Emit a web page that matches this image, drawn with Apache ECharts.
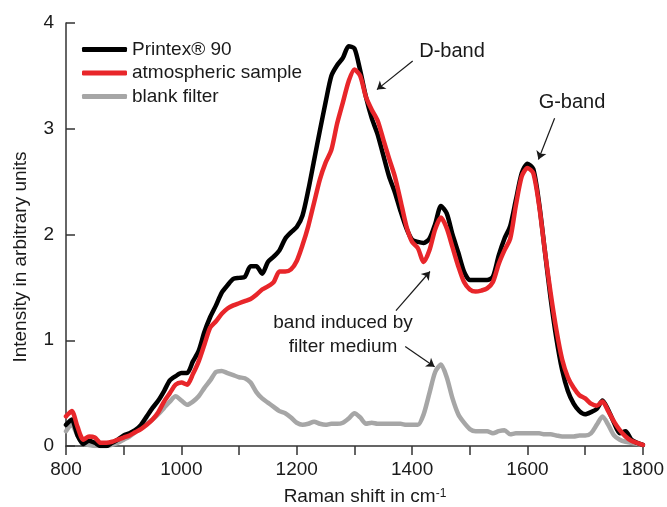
<!DOCTYPE html>
<html>
<head>
<meta charset="utf-8">
<script src="https://cdn.jsdelivr.net/npm/echarts@6/dist/echarts.min.js"></script>
<style>
  html, body { margin: 0; padding: 0; background: #fff; }
  #chart { width: 667px; height: 507px; }
</style>
</head>
<body>
<div id="chart"></div>
<script>
// Raman shift (cm^-1), sampled every 10 cm^-1 from 800 to 1800
const ramanShift = [];
for (let w = 800; w <= 1800; w += 10) ramanShift.push(w);

// Printex® 90 reference soot
const printex90 = [
  0.20, 0.25, 0.10, 0.02, 0.05, 0.03, 0.00, 0.00, 0.03, 0.06,
  0.10, 0.12, 0.15, 0.20, 0.28, 0.36, 0.43, 0.52, 0.62, 0.66,
  0.69, 0.69, 0.80, 0.90, 1.08, 1.22, 1.33, 1.45, 1.52, 1.58,
  1.59, 1.60, 1.70, 1.70, 1.63, 1.74, 1.79, 1.85, 1.96, 2.02,
  2.07, 2.18, 2.42, 2.70, 2.98, 3.25, 3.50, 3.60, 3.67, 3.78,
  3.76, 3.55, 3.30, 3.10, 2.95, 2.75, 2.55, 2.40, 2.22, 2.06,
  1.95, 1.93, 1.92, 1.96, 2.10, 2.27, 2.20, 2.00, 1.83, 1.65,
  1.57, 1.57, 1.57, 1.57, 1.60, 1.80, 1.96, 2.08, 2.33, 2.58,
  2.67, 2.62, 2.30, 1.85, 1.40, 1.02, 0.72, 0.52, 0.40, 0.33,
  0.30, 0.32, 0.35, 0.43, 0.34, 0.22, 0.12, 0.14, 0.06, 0.03,
  0.01
];

// Atmospheric aerosol sample
const atmospheric = [
  0.28, 0.33, 0.18, 0.06, 0.09, 0.08, 0.03, 0.03, 0.04, 0.06,
  0.08, 0.10, 0.13, 0.16, 0.20, 0.25, 0.32, 0.42, 0.50, 0.58,
  0.60, 0.58, 0.68, 0.80, 0.96, 1.12, 1.18, 1.25, 1.30, 1.33,
  1.35, 1.37, 1.39, 1.43, 1.48, 1.51, 1.55, 1.65, 1.65, 1.67,
  1.75, 1.90, 2.08, 2.30, 2.52, 2.68, 2.80, 3.05, 3.25, 3.45,
  3.56, 3.50, 3.30, 3.18, 3.08, 2.90, 2.72, 2.55, 2.32, 2.08,
  1.93, 1.87, 1.74, 1.85, 2.05, 2.16, 2.06, 1.88, 1.70, 1.55,
  1.48, 1.46, 1.47, 1.49, 1.55, 1.72, 1.85, 1.96, 2.28, 2.55,
  2.63, 2.58, 2.28, 1.85, 1.45, 1.10, 0.82, 0.65, 0.55, 0.48,
  0.45, 0.40, 0.38, 0.42, 0.33, 0.23, 0.15, 0.09, 0.05, 0.03,
  0.01
];

// Blank filter background
const blankFilter = [
  0.14, 0.20, 0.10, 0.02, 0.01, 0.00, 0.00, 0.00, 0.01, 0.03,
  0.06, 0.09, 0.13, 0.17, 0.21, 0.25, 0.30, 0.36, 0.42, 0.47,
  0.43, 0.39, 0.42, 0.47, 0.55, 0.62, 0.70, 0.71, 0.69, 0.67,
  0.65, 0.64, 0.60, 0.51, 0.45, 0.41, 0.37, 0.33, 0.31, 0.27,
  0.22, 0.20, 0.21, 0.23, 0.21, 0.20, 0.21, 0.21, 0.22, 0.26,
  0.31, 0.27, 0.21, 0.22, 0.21, 0.21, 0.21, 0.21, 0.21, 0.20,
  0.20, 0.20, 0.30, 0.50, 0.70, 0.77, 0.65, 0.45, 0.30, 0.22,
  0.16, 0.14, 0.14, 0.14, 0.12, 0.14, 0.15, 0.11, 0.12, 0.12,
  0.12, 0.12, 0.12, 0.11, 0.11, 0.10, 0.09, 0.09, 0.09, 0.10,
  0.10, 0.12, 0.20, 0.28, 0.20, 0.10, 0.06, 0.04, 0.03, 0.02,
  0.01
];

const seriesNames = ['Printex® 90', 'atmospheric sample', 'blank filter'];
const xTicks = [800, 1000, 1200, 1400, 1600, 1800];
const yTicks = [0, 1, 2, 3, 4];

const FONT = '"Liberation Sans", Arial, sans-serif';
const INK = '#1a1a1a';

const pair = arr => ramanShift.map((w, i) => [w, arr[i]]);

// Annotation arrows (tail -> head) in data coordinates
const arrows = [
  [[1401, 3.64], [1339, 3.37]],   // D-band
  [[1647, 3.10], [1619, 2.71]],   // G-band
  [[1372, 1.28], [1431, 1.65]],   // towards the 1450 shoulder
  [[1388, 0.94], [1439, 0.75]]    // towards the blank-filter band
];

const chart = echarts.init(document.getElementById('chart'), null, { renderer: 'canvas' });

const lineSeries = (name, data, color, z) => ({
  name, type: 'line', data: pair(data),
  smooth: 0.25, symbol: 'none', z,
  lineStyle: { color, width: 4.5, cap: 'round', join: 'round' },
  itemStyle: { color },
  emphasis: { disabled: true },
  animation: false
});

const blank = lineSeries(seriesNames[2], blankFilter, '#a6a6a6', 2);
blank.markLine = {
  silent: true,
  symbol: ['none', 'arrow'],
  symbolSize: 8,
  label: { show: false },
  lineStyle: { color: INK, width: 1.2, type: 'solid' },
  itemStyle: { color: INK },
  emphasis: { disabled: true },
  data: arrows.map(([a, b]) => [{ coord: a }, { coord: b }]),
  animation: false
};

chart.setOption({
  animation: false,
  backgroundColor: '#fff',
  grid: { left: 66, right: 24, top: 23, bottom: 61, containLabel: false },
  legend: {
    data: seriesNames,
    orient: 'vertical',
    left: 82, top: 40,
    padding: 0,
    icon: 'roundRect',
    itemWidth: 45, itemHeight: 5, itemGap: 4.5,
    textStyle: { fontFamily: FONT, fontSize: 19, color: INK, lineHeight: 19 },
    selectedMode: false
  },
  xAxis: {
    type: 'value', min: 800, max: 1800, interval: 100,
    axisLine: { show: true, lineStyle: { color: '#333', width: 1.5 } },
    axisTick: { show: true, inside: false, length: 9, lineStyle: { color: '#333', width: 1.5 } },
    axisLabel: {
      fontFamily: FONT, fontSize: 19, color: INK, margin: 14,
      formatter: v => (xTicks.includes(v) ? String(v) : '')
    },
    splitLine: { show: false }
  },
  yAxis: {
    type: 'value', min: 0, max: 4, interval: 1,
    axisLine: { show: true, lineStyle: { color: '#333', width: 1.5 } },
    axisTick: { show: true, inside: true, length: 9, lineStyle: { color: '#333', width: 1.5 } },
    axisLabel: {
      fontFamily: FONT, fontSize: 19, color: INK, margin: 12,
      formatter: v => (yTicks.includes(v) ? String(v) : '')
    },
    splitLine: { show: false }
  },
  graphic: [
    {
      type: 'text', x: 21, y: 257, rotation: Math.PI / 2,
      style: {
        text: 'Intensity in arbitrary units', fill: INK,
        font: '19px ' + FONT, textAlign: 'center', textVerticalAlign: 'middle'
      }
    },
    {
      type: 'text', x: 365, y: 497,
      style: {
        text: 'Raman shift in cm{sup|-1}', fill: INK,
        font: '19px ' + FONT, textAlign: 'center', textVerticalAlign: 'middle',
        rich: { sup: { fontSize: 12, verticalAlign: 'top', fontFamily: FONT, fill: INK } }
      }
    },
    {
      type: 'text', x: 452, y: 51,
      style: { text: 'D-band', fill: INK, font: '20px ' + FONT, textAlign: 'center', textVerticalAlign: 'middle' }
    },
    {
      type: 'text', x: 572, y: 102,
      style: { text: 'G-band', fill: INK, font: '20px ' + FONT, textAlign: 'center', textVerticalAlign: 'middle' }
    },
    {
      type: 'text', x: 343, y: 323,
      style: { text: 'band induced by', fill: INK, font: '19px ' + FONT, textAlign: 'center', textVerticalAlign: 'middle' }
    },
    {
      type: 'text', x: 343, y: 347,
      style: { text: 'filter medium', fill: INK, font: '19px ' + FONT, textAlign: 'center', textVerticalAlign: 'middle' }
    }
  ],
  series: [
    blank,
    lineSeries(seriesNames[0], printex90, '#000000', 3),
    lineSeries(seriesNames[1], atmospheric, '#e8262a', 4)
  ]
});
</script>
</body>
</html>
